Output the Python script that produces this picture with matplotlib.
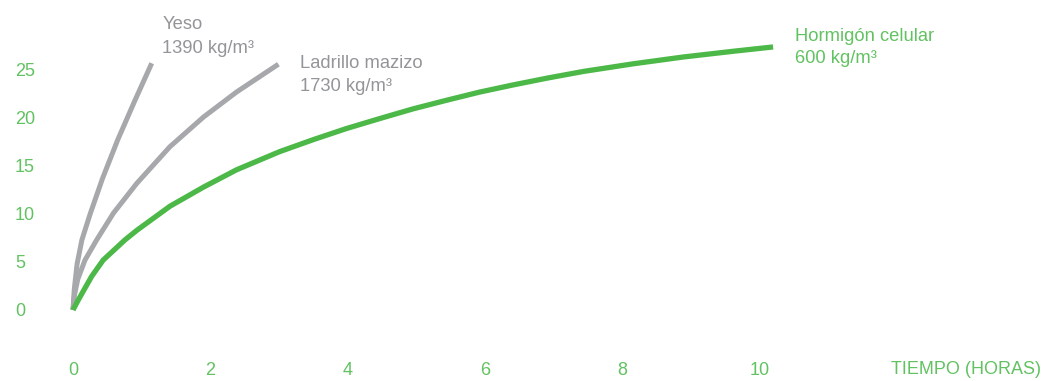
import matplotlib.pyplot as plt

plt.rcParams['font.family'] = ['Liberation Sans', 'DejaVu Sans']

GREEN = '#4cb848'
GREEN_TXT = '#62c262'
GRAY = '#a7a8ab'
GRAY_TXT = '#939598'

# curves (hours, value)
yeso_x = [0, 0.02, 0.06, 0.13, 0.25, 0.43, 0.65, 0.90, 1.146]
yeso_y = [0, 2.2, 4.8, 7.3, 10.0, 13.7, 17.7, 21.8, 25.7]

ladrillo_x = [0, 0.02, 0.07, 0.175, 0.345, 0.59, 0.93, 1.41, 1.90, 2.38, 2.99]
ladrillo_y = [0, 1.5, 3.2, 5.2, 7.3, 10.1, 13.2, 17.0, 20.1, 22.7, 25.6]

hormigon_x = [0, 0.077, 0.272, 0.44, 0.757, 0.93, 1.41, 1.90, 2.38, 3.01, 3.50, 3.98,
              4.47, 4.95, 5.44, 5.92, 6.41, 6.90, 7.43, 8.16, 8.88, 9.61, 10.19]
hormigon_y = [0, 1.04, 3.5, 5.2, 7.3, 8.3, 10.8, 12.8, 14.6, 16.5, 17.75, 18.9,
              19.95, 20.95, 21.85, 22.7, 23.45, 24.15, 24.85, 25.65, 26.35, 26.95, 27.4]

x_ticks = [0, 2, 4, 6, 8, 10]
y_ticks = [0, 5, 10, 15, 20, 25]

fig = plt.figure(figsize=(10.43, 3.81), dpi=100)
ax = fig.add_axes([0.0502, 0.1108, 0.942, 0.8315])

ax.plot(yeso_x, yeso_y, color=GRAY, lw=3.6, solid_capstyle='butt', solid_joinstyle='round')
ax.plot(ladrillo_x, ladrillo_y, color=GRAY, lw=3.6, solid_capstyle='butt', solid_joinstyle='round')
ax.plot(hormigon_x, hormigon_y, color=GREEN, lw=3.8, solid_capstyle='butt', solid_joinstyle='round')

ax.set_xlim(-0.3, 14)
ax.set_ylim(-3, 30)
ax.set_xticks(x_ticks)
ax.set_yticks(y_ticks)
for s in ax.spines.values():
    s.set_visible(False)
ax.tick_params(axis='x', length=0, pad=17, labelsize=13, labelcolor=GREEN_TXT)
ax.tick_params(axis='y', length=0, pad=27, labelsize=13, labelcolor=GREEN_TXT)
for lab in ax.get_yticklabels():
    lab.set_horizontalalignment('left')

fs = 13.2
ax.text(1.30, 29.27, 'Yeso', color=GRAY_TXT, fontsize=fs, clip_on=False)
ax.text(1.30, 26.77, '1390 kg/m³', color=GRAY_TXT, fontsize=fs, clip_on=False)
ax.text(3.30, 25.2, 'Ladrillo mazizo', color=GRAY_TXT, fontsize=fs, clip_on=False)
ax.text(3.30, 22.8, '1730 kg/m³', color=GRAY_TXT, fontsize=fs, clip_on=False)
ax.text(10.51, 28.0, 'Hormigón celular', color=GREEN_TXT, fontsize=fs, clip_on=False)
ax.text(10.51, 25.7, '600 kg/m³', color=GREEN_TXT, fontsize=fs, clip_on=False)

fig.text(0.998, 0.029, 'TIEMPO (HORAS)', color=GREEN_TXT, fontsize=13, ha='right', va='center')

fig.savefig('out.png', dpi=100)
